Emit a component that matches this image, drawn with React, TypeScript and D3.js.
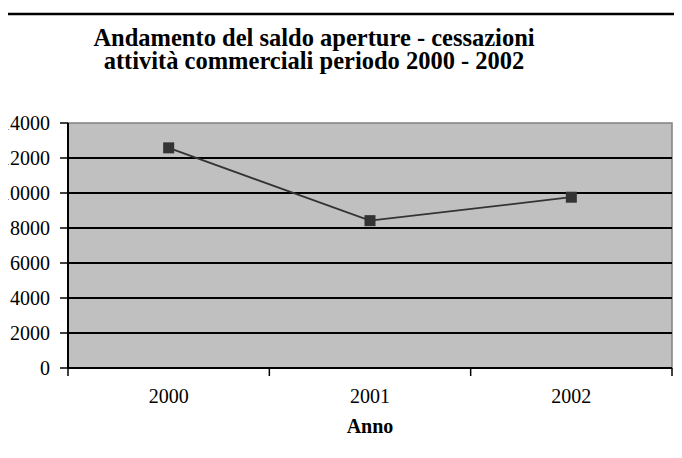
import * as d3 from "d3"

const years = ["2000", "2001", "2002"]
const saldo = [12580, 8420, 9760]
const yTicks = [0, 2000, 4000, 6000, 8000, 10000, 12000, 14000]
const titleLines = ["Andamento del saldo aperture - cessazioni", "attività commerciali periodo 2000 - 2002"]
const xTitle = "Anno"

const font = "Liberation Serif, DejaVu Serif, serif"

export default function App() {
  const width = 674
  const height = 450
  const plot = { left: 60, right: 664, top: 115, bottom: 360 }

  const x = d3.scaleBand().domain(years).range([plot.left, plot.right]).padding(0)
  const y = d3.scaleLinear().domain([0, 14000]).range([plot.bottom, plot.top])

  const line = d3
    .line<number>()
    .x((_, i) => (x(years[i]) as number) + x.bandwidth() / 2)
    .y((d) => y(d))

  const boundaries = [...years.map((c) => x(c) as number), plot.right]

  return (
    <svg width={width} height={height} style={{ display: "block" }} fontFamily={font}>
      {/* top rule */}
      <line x1={0} x2={width} y1={6} y2={6} stroke="#000" strokeWidth={2.5} />

      {/* title */}
      {titleLines.map((t, i) => (
        <text key={t} x={306} y={38 + i * 22.6} textAnchor="middle" fontSize={24.5} fontWeight="bold" fill="#000">
          {t}
        </text>
      ))}

      {/* plot area */}
      <rect x={plot.left} y={plot.top} width={plot.right - plot.left} height={plot.bottom - plot.top} fill="#c0c0c0" stroke="#808080" strokeWidth={1.5} />

      {/* grid lines */}
      {yTicks
        .filter((t) => t > 0 && t < 14000)
        .map((t) => (
          <line key={t} x1={plot.left} x2={plot.right} y1={y(t)} y2={y(t)} stroke="#000" strokeWidth={2} />
        ))}

      {/* y axis */}
      <line x1={plot.left} x2={plot.left} y1={plot.top} y2={plot.bottom} stroke="#000" strokeWidth={2} />
      {yTicks.map((t) => (
        <g key={t}>
          <line x1={plot.left - 8} x2={plot.left} y1={y(t)} y2={y(t)} stroke="#000" strokeWidth={1.5} />
          <text x={42} y={y(t)} dy="0.35em" textAnchor="end" fontSize={20} fill="#000">
            {t}
          </text>
        </g>
      ))}

      {/* x axis */}
      <line x1={plot.left} x2={plot.right} y1={plot.bottom} y2={plot.bottom} stroke="#000" strokeWidth={2} />
      {boundaries.map((bx, i) => (
        <line key={i} x1={bx} x2={bx} y1={plot.bottom} y2={plot.bottom + 8} stroke="#000" strokeWidth={1.5} />
      ))}
      {years.map((c) => (
        <text key={c} x={(x(c) as number) + x.bandwidth() / 2} y={395} textAnchor="middle" fontSize={20} fill="#000">
          {c}
        </text>
      ))}
      <text x={(plot.left + plot.right) / 2} y={425} textAnchor="middle" fontSize={20} fontWeight="bold" fill="#000">
        {xTitle}
      </text>

      {/* series */}
      <path d={line(saldo) ?? ""} fill="none" stroke="#333333" strokeWidth={1.8} />
      {saldo.map((v, i) => (
        <rect
          key={years[i]}
          x={(x(years[i]) as number) + x.bandwidth() / 2 - 5.5}
          y={y(v) - 5.5}
          width={11}
          height={11}
          fill="#333333"
        />
      ))}
    </svg>
  )
}
